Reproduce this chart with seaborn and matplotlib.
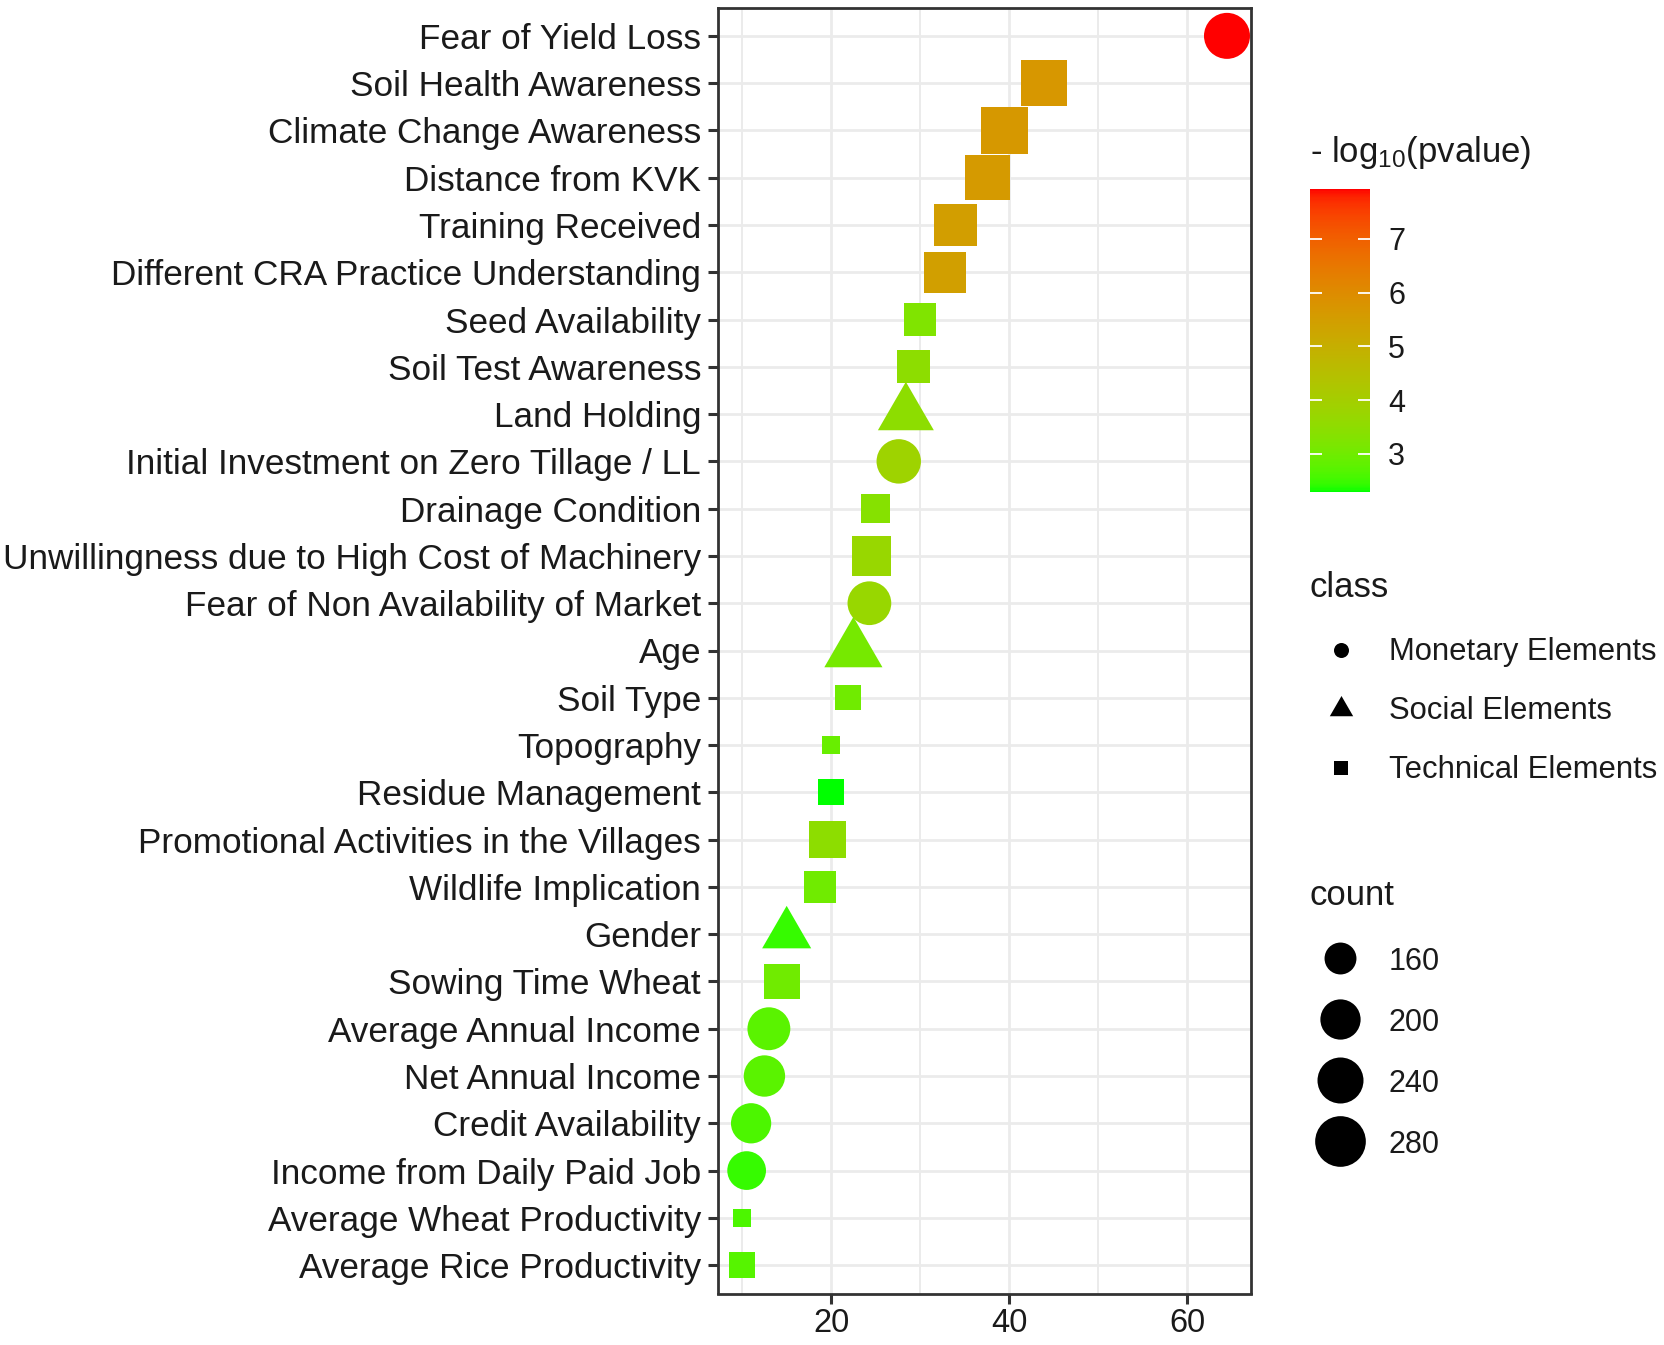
import numpy as np
import pandas as pd
import seaborn as sns
import matplotlib.pyplot as plt
from matplotlib.colors import ListedColormap, Normalize
from matplotlib.cm import ScalarMappable

# data, top row of the chart first
factors = [
    "Fear of Yield Loss", "Soil Health Awareness", "Climate Change Awareness",
    "Distance from KVK", "Training Received", "Different CRA Practice Understanding",
    "Seed Availability", "Soil Test Awareness", "Land Holding",
    "Initial Investment on Zero Tillage / LL", "Drainage Condition",
    "Unwillingness due to High Cost of Machinery", "Fear of Non Availability of Market",
    "Age", "Soil Type", "Topography", "Residue Management",
    "Promotional Activities in the Villages", "Wildlife Implication", "Gender",
    "Sowing Time Wheat", "Average Annual Income", "Net Annual Income",
    "Credit Availability", "Income from Daily Paid Job",
    "Average Wheat Productivity", "Average Rice Productivity",
]
enrichment = [64.5, 43.9, 39.5, 37.6, 34.0, 32.8, 30.0, 29.3, 28.4, 27.6, 25.0,
              24.5, 24.3, 22.5, 21.9, 20.0, 20.0, 19.6, 18.7, 15.0, 14.5, 13.0,
              12.5, 11.0, 10.5, 10.0, 10.0]
neglog_p = [7.93, 5.7, 5.65, 5.6, 5.5, 5.45, 3.25, 3.5, 3.5, 3.85, 3.35,
            3.7, 3.7, 3.1, 3.0, 2.9, 2.29, 3.5, 3.0, 2.45, 3.0, 2.75,
            2.75, 2.6, 2.45, 2.6, 2.7]
counts = [240, 292, 304, 283, 260, 246, 178, 183, 208, 228, 164,
          226, 223, 219, 150, 140, 152, 208, 177, 179, 200, 217,
          207, 200, 191, 140, 151]
classes = ["Monetary Elements", "Technical Elements", "Technical Elements",
           "Technical Elements", "Technical Elements", "Technical Elements",
           "Technical Elements", "Technical Elements", "Social Elements",
           "Monetary Elements", "Technical Elements", "Technical Elements",
           "Monetary Elements", "Social Elements", "Technical Elements",
           "Technical Elements", "Technical Elements", "Technical Elements",
           "Technical Elements", "Social Elements", "Technical Elements",
           "Monetary Elements", "Monetary Elements", "Monetary Elements",
           "Monetary Elements", "Technical Elements", "Technical Elements"]

class_names = ["Monetary Elements", "Social Elements", "Technical Elements"]
count_breaks = [160, 200, 240, 280]
cbar_ticks = [3, 4, 5, 6, 7]

df = pd.DataFrame({"factor": factors, "x": enrichment, "p": neglog_p,
                   "count": counts, "cls": classes})

DPI = 100
plt.rcParams['font.family'] = ['Liberation Sans', 'DejaVu Sans']
plt.rcParams['mathtext.fontset'] = 'custom'
plt.rcParams['mathtext.rm'] = 'Liberation Sans'
plt.rcParams['mathtext.it'] = 'Liberation Sans:italic'

# green -> red gradient interpolated in Lab space (like ggplot)
M = np.array([[0.4124564, 0.3575761, 0.1804375],
              [0.2126729, 0.7151522, 0.0721750],
              [0.0193339, 0.1191920, 0.9503041]])
WHITE = np.array([0.95047, 1.0, 1.08883])


def to_lab(rgb):
    c = np.array(rgb, float)
    c = np.where(c <= 0.04045, c / 12.92, ((c + 0.055) / 1.055) ** 2.4)
    t = M @ c / WHITE
    f = np.where(t > (6 / 29) ** 3, np.cbrt(t), t / (3 * (6 / 29) ** 2) + 4 / 29)
    return np.array([116 * f[1] - 16, 500 * (f[0] - f[1]), 200 * (f[1] - f[2])])


def from_lab(lab):
    fy = (lab[0] + 16) / 116
    f = np.array([fy + lab[1] / 500, fy, fy - lab[2] / 200])
    xyz = np.where(f > 6 / 29, f ** 3, 3 * (6 / 29) ** 2 * (f - 4 / 29)) * WHITE
    c = np.clip(np.linalg.solve(M, xyz), 0, None)
    c = np.where(c <= 0.0031308, 12.92 * c, 1.055 * c ** (1 / 2.4) - 0.055)
    return np.clip(c, 0, 1)


lo, hi = to_lab([0, 1, 0]), to_lab([1, 0, 0])
cmap = ListedColormap([from_lab(lo + t * (hi - lo)) for t in np.linspace(0, 1, 256)])
norm = Normalize(min(neglog_p), max(neglog_p))

# marker geometry so that shapes of equal count share equal area (R pch 15/16/17)
tri = [(0, 1.5551), (1.3468, -0.7776), (-1.3468, -0.7776)]
shape = {"Monetary Elements": "o", "Social Elements": tri, "Technical Elements": "s"}
shape_scale = {"Monetary Elements": 1.0, "Social Elements": 1.5551, "Technical Elements": 0.8862}


def diam(c):
    return 20.5 + 2.55 * np.sqrt(max(c - 140, 0))


def area(c, k=1.0):
    return (k * diam(c) * 72 / DPI) ** 2


fig = plt.figure(figsize=(16.65, 13.45), dpi=DPI)
ax = fig.add_axes([718 / 1665, 1 - 1293.5 / 1345, 533 / 1665, 1286 / 1345])
ax.yaxis.update_units(np.array(factors[::-1]))

for name in class_names:
    sub = df[df["cls"] == name]
    sizes = {c: area(c, shape_scale[name]) for c in sub["count"].unique()}
    sns.scatterplot(data=sub, x="x", y="factor", hue="p", hue_norm=norm, palette=cmap,
                    size="count", sizes=sizes, marker=shape[name], linewidth=0,
                    legend=False, ax=ax, zorder=3)

ax.set_xlim(7.28, 67.2)
ax.set_ylim(-0.6, len(factors) - 0.4)
ax.set_xticks([20, 40, 60])
ax.set_xticks([10, 30, 50], minor=True)
ax.set_xlabel("")
ax.set_ylabel("")
ax.set_axisbelow(True)
ax.grid(which="major", color="#EBEBEB", lw=2.0)
ax.grid(which="minor", axis="x", color="#EBEBEB", lw=1.4)
for sp in ax.spines.values():
    sp.set_color("#333333")
    sp.set_linewidth(2.0)
ax.tick_params(which="major", length=7.2, width=2.2, color="#333333")
ax.tick_params(which="minor", length=0)
ax.tick_params(axis="y", labelsize=25.3, pad=5, labelcolor="#1a1a1a")
ax.tick_params(axis="x", labelsize=23.5, pad=3, labelcolor="#1a1a1a")

# colour bar
cax = fig.add_axes([1310 / 1665, 1 - 492 / 1345, 60 / 1665, 303 / 1345])
cb = fig.colorbar(ScalarMappable(norm=norm, cmap=cmap), cax=cax)
cb.outline.set_visible(False)
cb.set_ticks(cbar_ticks)
cax.tick_params(length=0, labelsize=22, pad=13, labelcolor="#1a1a1a")
x0, x1 = cax.get_xlim()
w = x1 - x0
cax.hlines(cbar_ticks, x0, x0 + 0.2 * w, colors="white", lw=1.3)
cax.hlines(cbar_ticks, x1 - 0.2 * w, x1, colors="white", lw=1.3)

# legends drawn in pixel space
lax = fig.add_axes([0, 0, 1, 1])
lax.set_xlim(0, 1665)
lax.set_ylim(1345, 0)
lax.axis("off")
lax.text(1310, 162, "- log$_{10}$(pvalue)", fontsize=25, va="baseline", color="#1a1a1a")

lax.text(1310, 597, "class", fontsize=25, va="baseline", color="#1a1a1a")
key_marker = {"Monetary Elements": ("o", 15), "Social Elements": (tri, 27),
              "Technical Elements": ("s", 14)}
for i, name in enumerate(class_names):
    yc = 650 + i * 59
    m, d = key_marker[name]
    lax.scatter([1341], [yc], marker=m, s=(d * 0.72) ** 2, color="black", linewidth=0)
    lax.text(1389, yc + 10, name, fontsize=22.3, va="baseline", color="#1a1a1a")

lax.text(1310, 905, "count", fontsize=25, va="baseline", color="#1a1a1a")
for i, c in enumerate(count_breaks):
    yc = 958 + i * 61
    lax.scatter([1340], [yc], marker="o", s=area(c), color="black", linewidth=0)
    lax.text(1389, yc + 12, str(c), fontsize=22, va="baseline", color="#1a1a1a")

fig.savefig("out.png", dpi=DPI)
